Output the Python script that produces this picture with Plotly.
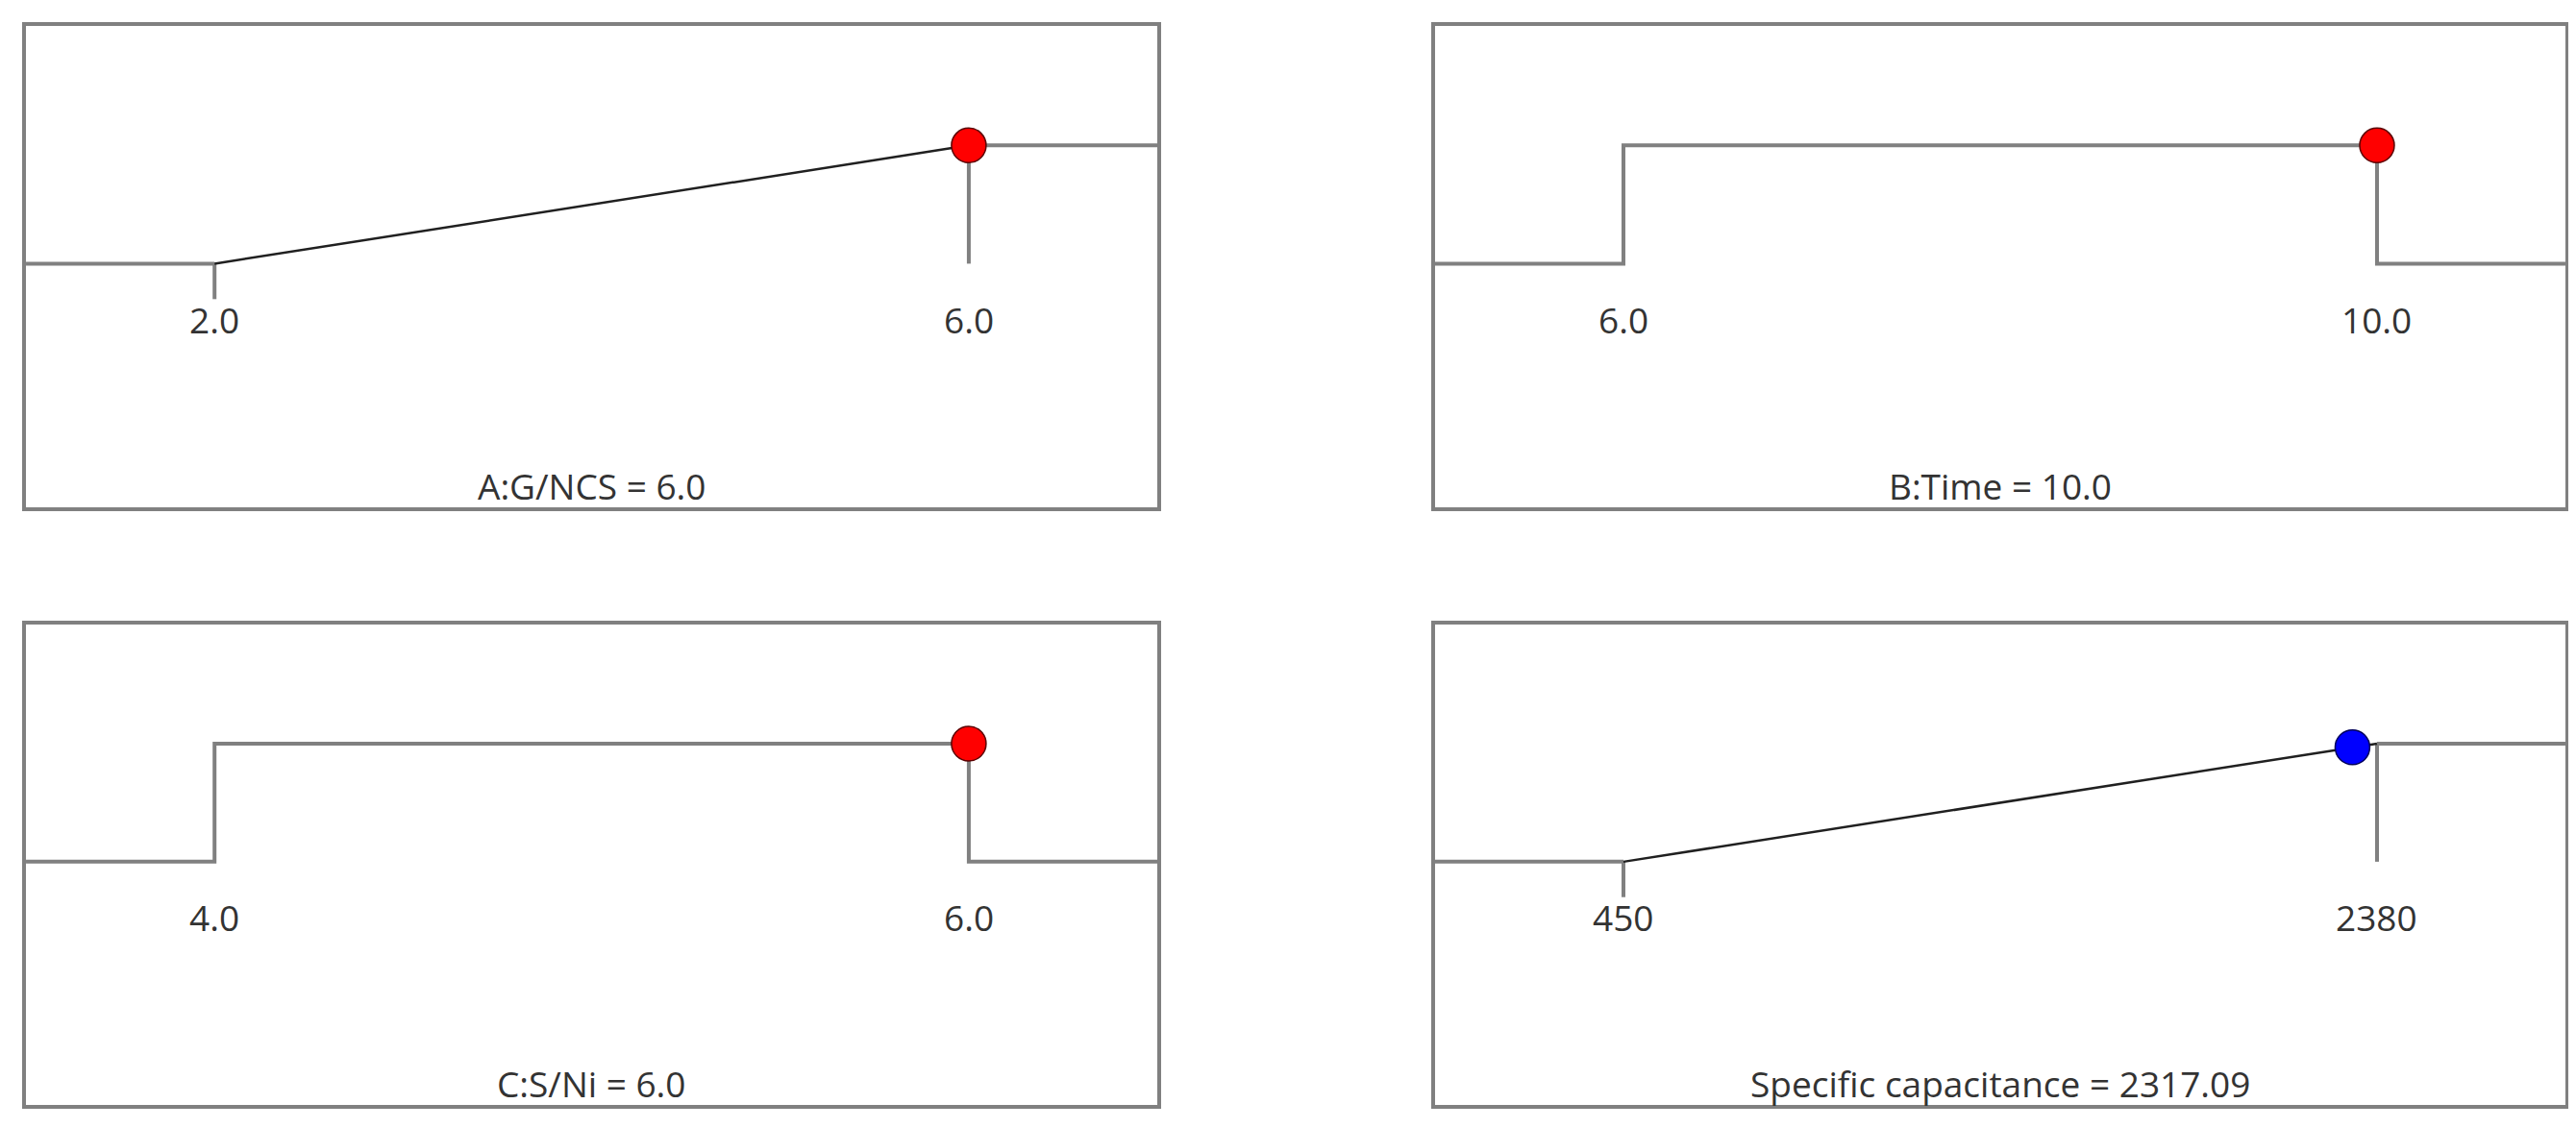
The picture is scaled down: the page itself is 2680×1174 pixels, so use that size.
import plotly.graph_objects as go

# Factor / response settings read from the desirability ramps
names = ["A:G/NCS", "B:Time", "C:S/Ni", "Specific capacitance"]
goals = ["maximize", "in range", "in range", "maximize"]
low_vals = [2.0, 6.0, 4.0, 450]
high_vals = [6.0, 10.0, 6.0, 2380]
low_text = ["2.0", "6.0", "4.0", "450"]
high_text = ["6.0", "10.0", "6.0", "2380"]
current_vals = [6.0, 10.0, 6.0, 2317.09]
current_text = ["6.0", "10.0", "6.0", "2317.09"]
desirability = [1.0, 1.0, 1.0, 0.97]
point_colors = ["#ff0000", "#ff0000", "#ff0000", "#0000ff"]
point_edges = ["#5a0000", "#5a0000", "#5a0000", "#00005a"]

GRAY = "#808080"
FONT = "Open Sans"

# page body has an 8px margin, so the panels are nudged up/left by that amount
x_domains = [[0.0071, 0.4463], [0.5541, 0.9929], [0.0071, 0.4463], [0.5541, 0.9929]]
y_domains = [[0.5571, 0.9838], [0.5571, 0.9838], [0.0273, 0.4532], [0.0273, 0.4532]]
Y_RANGE = [-2.06, 2.01]

fig = go.Figure()
annotations = []
layout_axes = {}

for i in range(4):
    lo, hi = low_vals[i], high_vals[i]
    span = hi - lo
    x0, x1 = lo - span / 4, hi + span / 4
    xa = "x" if i == 0 else f"x{i + 1}"
    ya = "y" if i == 0 else f"y{i + 1}"

    if goals[i] == "in range":
        gx = [x0, lo, lo, hi, hi, x1]
        gy = [0, 0, 1, 1, 0, 0]
    else:
        gx = [x0, lo, None, lo, lo, None, hi, x1, None, hi, hi]
        gy = [0, 0, None, 0, -0.3, None, 1, 1, None, 1, 0]
    fig.add_trace(go.Scatter(x=gx, y=gy, mode="lines", xaxis=xa, yaxis=ya,
                             line=dict(color=GRAY, width=4), hoverinfo="skip",
                             showlegend=False, cliponaxis=False))
    if goals[i] == "maximize":
        fig.add_trace(go.Scatter(x=[lo, hi], y=[0, 1], mode="lines", xaxis=xa, yaxis=ya,
                                 line=dict(color="#202020", width=2.5), hoverinfo="skip",
                                 showlegend=False))

    fig.add_trace(go.Scatter(x=[current_vals[i]], y=[desirability[i]], mode="markers",
                             xaxis=xa, yaxis=ya, showlegend=False,
                             marker=dict(size=36, color=point_colors[i],
                                         line=dict(color=point_edges[i], width=1.5))))

    # tick labels under the low / high limits
    for xv, txt in [(lo, low_text[i]), (hi, high_text[i])]:
        annotations.append(dict(x=xv, y=-0.47, xref=xa, yref=ya, text=txt,
                                showarrow=False, yanchor="middle",
                                font=dict(family=FONT, size=37, color="#333333")))
    # panel caption
    annotations.append(dict(x=0.5, y=-1.88, xref=f"{xa} domain", yref=ya,
                            text=f"{names[i]} = {current_text[i]}",
                            showarrow=False, yanchor="middle",
                            font=dict(family=FONT, size=37, color="#333333")))

    key = "" if i == 0 else str(i + 1)
    layout_axes[f"xaxis{key}"] = dict(domain=x_domains[i], range=[x0, x1], anchor=ya,
                                      showgrid=False, zeroline=False, showticklabels=False,
                                      ticks="", showline=True, mirror=True,
                                      linecolor=GRAY, linewidth=4)
    layout_axes[f"yaxis{key}"] = dict(domain=y_domains[i], range=Y_RANGE, anchor=xa,
                                      showgrid=False, zeroline=False, showticklabels=False,
                                      ticks="", showline=True, mirror=True,
                                      linecolor=GRAY, linewidth=4)

fig.update_layout(
    width=2680, height=1174,
    margin=dict(l=0, r=0, t=0, b=0),
    paper_bgcolor="white", plot_bgcolor="white",
    annotations=annotations,
    **layout_axes,
)

fig.write_html("out.html")
